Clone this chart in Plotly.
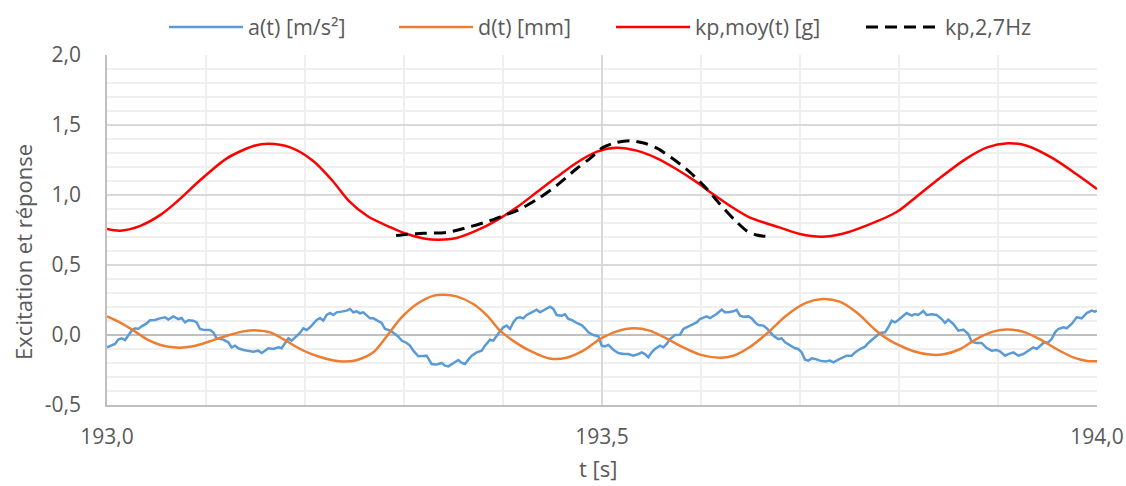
import plotly.graph_objects as go

# ---- data ----
a_t = [193.0000, 193.0047, 193.0081, 193.0114, 193.0148, 193.0182, 193.0215, 193.0249, 193.0283, 193.0316,
       193.0350, 193.0401, 193.0434, 193.0485, 193.0535, 193.0586, 193.0620, 193.0670, 193.0721, 193.0754,
       193.0788, 193.0822, 193.0872, 193.0906, 193.0939, 193.0973, 193.1040, 193.1074, 193.1108, 193.1175,
       193.1226, 193.1259, 193.1293, 193.1327, 193.1377, 193.1428, 193.1478, 193.1529, 193.1562, 193.1596,
       193.1630, 193.1680, 193.1731, 193.1764, 193.1798, 193.1832, 193.1865, 193.1899, 193.1949,
       193.1983, 193.2017, 193.2051, 193.2084, 193.2118, 193.2152, 193.2185, 193.2219, 193.2253, 193.2286,
       193.2320, 193.2370, 193.2421, 193.2455, 193.2488, 193.2522, 193.2556, 193.2589, 193.2623, 193.2657,
       193.2690, 193.2741, 193.2774, 193.2808, 193.2859, 193.2909, 193.2943, 193.2976, 193.3027, 193.3061,
       193.3094, 193.3145, 193.3195, 193.3229, 193.3279, 193.3330, 193.3381, 193.3414, 193.3448, 193.3498,
       193.3549, 193.3583, 193.3616, 193.3650, 193.3684, 193.3734, 193.3785, 193.3818, 193.3869, 193.3903,
       193.3936, 193.3970,
       193.4003, 193.4037, 193.4071, 193.4104, 193.4138, 193.4172, 193.4205, 193.4239, 193.4290, 193.4340,
       193.4374, 193.4407, 193.4441, 193.4475, 193.4508, 193.4542, 193.4593, 193.4626, 193.4660, 193.4694,
       193.4744, 193.4795, 193.4828, 193.4862, 193.4913, 193.4963, 193.4997, 193.5030, 193.5064, 193.5115,
       193.5165, 193.5216, 193.5266, 193.5317, 193.5367, 193.5401, 193.5434, 193.5468, 193.5502, 193.5535,
       193.5586, 193.5620, 193.5653, 193.5687, 193.5737, 193.5788, 193.5822, 193.5872, 193.5906, 193.5956,
       193.5990,
       193.6024, 193.6057, 193.6091, 193.6125, 193.6158, 193.6209, 193.6242, 193.6276, 193.6327, 193.6360,
       193.6394, 193.6428, 193.6478, 193.6512, 193.6546, 193.6579, 193.6630, 193.6663, 193.6697, 193.6731,
       193.6781, 193.6815, 193.6849, 193.6899, 193.6950, 193.6983, 193.7017, 193.7051, 193.7084, 193.7118,
       193.7152, 193.7202, 193.7253, 193.7303, 193.7337, 193.7387, 193.7438, 193.7471, 193.7522, 193.7556,
       193.7606, 193.7657, 193.7690, 193.7741, 193.7775, 193.7808, 193.7859, 193.7892, 193.7926, 193.7960,
       193.7993, 193.8010,
       193.8044, 193.8077, 193.8128, 193.8162, 193.8195, 193.8246, 193.8279, 193.8330, 193.8380, 193.8431,
       193.8465, 193.8498, 193.8549, 193.8599, 193.8650, 193.8700, 193.8734, 193.8784, 193.8835, 193.8886,
       193.8936, 193.8987, 193.9020, 193.9071, 193.9104, 193.9155, 193.9205, 193.9256, 193.9306, 193.9357,
       193.9391, 193.9424, 193.9458, 193.9508, 193.9542, 193.9576, 193.9609, 193.9660, 193.9694, 193.9744,
       193.9795, 193.9845, 193.9896, 193.9946, 193.9980, 194.0000]
a_v = [-0.088, -0.076, -0.064, -0.033, -0.024, -0.036, 0.000, 0.031, 0.048, 0.043,
       0.062, 0.083, 0.105, 0.107, 0.119, 0.126, 0.110, 0.133, 0.114, 0.121,
       0.090, 0.105, 0.102, 0.090, 0.043, 0.038, 0.036, 0.019, -0.024, -0.033,
       -0.052, -0.088, -0.076, -0.095, -0.107, -0.114, -0.119, -0.112, -0.129, -0.112,
       -0.095, -0.100, -0.088, -0.095, -0.057, -0.024, -0.040, -0.017, 0.014,
       0.048, 0.036, 0.055, 0.079, 0.107, 0.121, 0.102, 0.143, 0.157, 0.143,
       0.162, 0.167, 0.174, 0.186, 0.162, 0.169, 0.155, 0.162, 0.138, 0.119,
       0.119, 0.102, 0.086, 0.043, 0.033, 0.007, -0.012, -0.040, -0.057, -0.076,
       -0.112, -0.152, -0.152, -0.148, -0.207, -0.210, -0.200, -0.219, -0.224, -0.200,
       -0.179, -0.200, -0.207, -0.176, -0.148, -0.124, -0.112, -0.076, -0.033, -0.040,
       -0.005, 0.026,
       0.055, 0.067, 0.043, 0.090, 0.121, 0.126, 0.119, 0.143, 0.162, 0.181,
       0.162, 0.174, 0.186, 0.202, 0.186, 0.143, 0.138, 0.148, 0.114, 0.107,
       0.086, 0.071, 0.048, 0.019, 0.000, -0.010, -0.076, -0.081, -0.071, -0.105,
       -0.129, -0.136, -0.136, -0.148, -0.136, -0.124, -0.136, -0.160, -0.124, -0.100,
       -0.076, -0.088, -0.064, -0.029, 0.000, 0.002, 0.043, 0.062, 0.071, 0.090,
       0.114,
       0.126, 0.133, 0.121, 0.133, 0.150, 0.181, 0.162, 0.162, 0.169, 0.179,
       0.138, 0.131, 0.133, 0.119, 0.090, 0.071, 0.067, 0.048, 0.019, -0.005,
       -0.029, -0.024, -0.052, -0.076, -0.095, -0.100, -0.124, -0.176, -0.183, -0.167,
       -0.171, -0.183, -0.190, -0.183, -0.195, -0.176, -0.160, -0.148, -0.148, -0.124,
       -0.100, -0.083, -0.057, -0.029, -0.005, 0.014, 0.019, 0.055, 0.102, 0.090,
       0.107, 0.119,
       0.138, 0.157, 0.138, 0.150, 0.143, 0.171, 0.143, 0.148, 0.143, 0.114,
       0.086, 0.110, 0.079, 0.031, 0.038, 0.007, -0.048, -0.057, -0.057, -0.093,
       -0.112, -0.107, -0.117, -0.148, -0.136, -0.124, -0.148, -0.136, -0.112, -0.088,
       -0.100, -0.076, -0.057, -0.052, -0.029, 0.019, 0.043, 0.055, 0.048, 0.079,
       0.126, 0.119, 0.157, 0.174, 0.167, 0.174]

d_t = [193.000, 193.013, 193.027, 193.040, 193.054, 193.070, 193.087, 193.104, 193.121, 193.138,
       193.151, 193.165, 193.178, 193.195, 193.212, 193.229, 193.239, 193.252, 193.269, 193.283,
       193.296, 193.313, 193.330, 193.340, 193.353, 193.370, 193.384, 193.397, 193.410, 193.427,
       193.447, 193.464, 193.481, 193.498, 193.515, 193.532, 193.548, 193.565, 193.582, 193.599,
       193.619, 193.632, 193.649, 193.666, 193.686, 193.706, 193.723, 193.740, 193.757, 193.777,
       193.791, 193.801, 193.814, 193.831, 193.845, 193.862, 193.878, 193.895, 193.909, 193.925,
       193.942, 193.959, 193.976, 193.990, 194.000]
d_v = [0.133, 0.090, 0.031, -0.029, -0.071, -0.090, -0.081, -0.045, -0.005, 0.026,
       0.033, 0.019, -0.029, -0.100, -0.150, -0.182, -0.190, -0.180, -0.124, -0.005,
       0.114, 0.221, 0.281, 0.288, 0.276, 0.221, 0.138, 0.031, -0.040, -0.112,
       -0.168, -0.163, -0.112, -0.029, 0.026, 0.048, 0.031, -0.024, -0.088, -0.140,
       -0.162, -0.150, -0.088, 0.007, 0.138, 0.229, 0.257, 0.238, 0.162, 0.031,
       -0.040, -0.076, -0.114, -0.140, -0.138, -0.100, -0.029, 0.024, 0.040, 0.024,
       -0.029, -0.100, -0.160, -0.186, -0.188]

kp_t = [193.000, 193.013, 193.033, 193.054, 193.071, 193.094, 193.121, 193.148, 193.163, 193.185,
        193.208, 193.228, 193.244, 193.263, 193.286, 193.303, 193.320, 193.335, 193.353, 193.373,
        193.394, 193.414, 193.434, 193.454, 193.474, 193.495, 193.515, 193.535, 193.555, 193.575,
        193.596, 193.612, 193.629, 193.649, 193.679, 193.700, 193.722, 193.743, 193.767, 193.798,
        193.818, 193.841, 193.868, 193.889, 193.910, 193.929, 193.956, 193.979, 194.000]
kp_v = [0.757, 0.745, 0.778, 0.858, 0.955, 1.105, 1.262, 1.350, 1.366, 1.340,
        1.245, 1.100, 0.960, 0.850, 0.770, 0.721, 0.690, 0.681, 0.693, 0.745,
        0.821, 0.912, 1.019, 1.126, 1.229, 1.310, 1.338, 1.317, 1.264, 1.186,
        1.090, 1.007, 0.924, 0.840, 0.769, 0.721, 0.702, 0.723, 0.781, 0.880,
        0.990, 1.120, 1.260, 1.340, 1.369, 1.352, 1.260, 1.150, 1.043]

k27_t = [193.292, 193.303, 193.320, 193.343, 193.367, 193.387, 193.400, 193.414, 193.434, 193.454,
         193.474, 193.488, 193.501, 193.515, 193.528, 193.542, 193.555, 193.572, 193.589, 193.606,
         193.619, 193.633, 193.646, 193.656, 193.665]
k27_v = [0.710, 0.720, 0.726, 0.733, 0.774, 0.817, 0.852, 0.888, 0.967, 1.067,
         1.186, 1.262, 1.340, 1.376, 1.388, 1.371, 1.336, 1.257, 1.162, 1.043,
         0.936, 0.829, 0.745, 0.714, 0.705]

y_ticks = [-0.5, 0.0, 0.5, 1.0, 1.5, 2.0]
y_labels = ["-0,5", "0,0", "0,5", "1,0", "1,5", "2,0"]
x_ticks = [193.0, 193.5, 194.0]
x_labels = ["193,0", "193,5", "194,0"]

FONT = "Open Sans"
TXT = "#595959"

fig = go.Figure()
fig.add_trace(go.Scatter(x=a_t, y=a_v, mode="lines", name="a(t) [m/s²]", legendwidth=141,
                         line=dict(color="#5B9BD5", width=2.5)))
fig.add_trace(go.Scatter(x=d_t, y=d_v, mode="lines", name="d(t) [mm]", legendwidth=128,
                         line=dict(color="#ED7D31", width=2.5, shape="spline", smoothing=0.8)))
fig.add_trace(go.Scatter(x=kp_t, y=kp_v, mode="lines", name="kp,moy(t) [g]", legendwidth=161,
                         line=dict(color="#FF0000", width=2.5, shape="spline", smoothing=0.8)))
fig.add_trace(go.Scatter(x=k27_t, y=k27_v, mode="lines", name="kp,2,7Hz", legendwidth=90,
                         line=dict(color="#000000", width=3, dash="12px,7px", shape="spline", smoothing=0.8)))

fig.update_layout(
    width=1126, height=486,
    margin=dict(l=107, r=29, t=55, b=81, autoexpand=False),
    paper_bgcolor="white", plot_bgcolor="white",
    font=dict(family=FONT, size=21, color=TXT),
    showlegend=True,
    legend=dict(orientation="h", x=0.5, xanchor="center", y=1.08, yanchor="middle",
                font=dict(family=FONT, size=21.5, color=TXT), itemwidth=74,
                bgcolor="rgba(0,0,0,0)"),
    annotations=[
        dict(text="Excitation et réponse", xref="paper", yref="paper", x=-0.085, y=0.437,
             textangle=-90, showarrow=False, font=dict(family=FONT, size=22, color=TXT),
             xanchor="center", yanchor="middle"),
        dict(text="t [s]", xref="paper", yref="paper", x=0.4955, y=-0.18,
             showarrow=False, font=dict(family=FONT, size=22, color=TXT),
             xanchor="center", yanchor="middle"),
    ],
)

fig.update_xaxes(range=[193.0, 194.0], tickmode="array", tickvals=x_ticks, ticktext=x_labels,
                 showgrid=True, gridcolor="#D9D9D9", gridwidth=1.5,
                 minor=dict(tickmode="linear", tick0=193.0, dtick=0.1, showgrid=True,
                            gridcolor="#EFEFEF", gridwidth=1.5),
                 showline=True, linecolor="#BFBFBF", linewidth=1.5, zeroline=False,
                 ticks="", ticklabelstandoff=12,
                 tickfont=dict(family=FONT, size=21, color=TXT))
fig.update_yaxes(range=[-0.5, 2.0], tickmode="array", tickvals=y_ticks, ticktext=y_labels,
                 showgrid=True, gridcolor="#D9D9D9", gridwidth=1.5,
                 minor=dict(tickmode="linear", tick0=0.0, dtick=0.1, showgrid=True,
                            gridcolor="#EFEFEF", gridwidth=1.5),
                 showline=True, linecolor="#BFBFBF", linewidth=1.5,
                 zeroline=True, zerolinecolor="#BFBFBF", zerolinewidth=1.5,
                 ticks="", ticklabelstandoff=20,
                 tickfont=dict(family=FONT, size=21, color=TXT))

fig.write_html("out.html", config={"displayModeBar": False},
               post_script="document.body.style.margin='0px'; document.body.style.overflow='hidden';")
